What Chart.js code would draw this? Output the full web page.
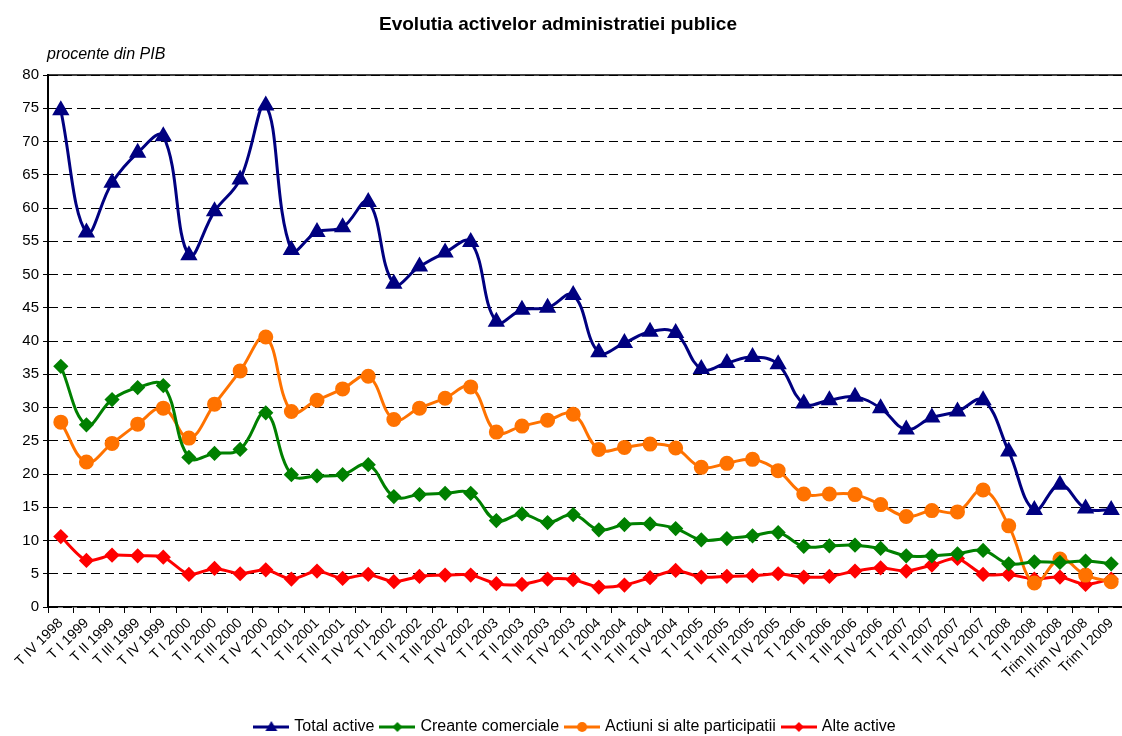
<!DOCTYPE html>
<html>
<head>
<meta charset="utf-8">
<script src="https://cdn.jsdelivr.net/npm/chart.js@4/dist/chart.umd.min.js"></script>
<style>
  body { margin: 0; overflow: hidden; background: #fff; font-family: Arial, "Liberation Sans", sans-serif; }
  #wrap { position: relative; width: 1122px; height: 736px; overflow: hidden; }
  #title { position: absolute; left: 0; top: 13px; width: 1116px; text-align: center; font-weight: bold; font-size: 19px; color: #000; }
  #unit { position: absolute; left: 47px; top: 45px; font-style: italic; font-size: 16px; color: #000; }
  canvas { position: absolute; left: 0; top: 0; }
</style>
</head>
<body>
<div id="wrap">
  <canvas id="myChart" width="1134" height="745"></canvas>
  <div id="title">Evolutia activelor administratiei publice</div>
  <div id="unit">procente din PIB</div>
</div>
<script>
var quarters = ["T IV 1998", "T I 1999", "T II 1999", "T III 1999", "T IV 1999",
  "T I 2000", "T II 2000", "T III 2000", "T IV 2000",
  "T I 2001", "T II 2001", "T III 2001", "T IV 2001",
  "T I 2002", "T II 2002", "T III 2002", "T IV 2002",
  "T I 2003", "T II 2003", "T III 2003", "T IV 2003",
  "T I 2004", "T II 2004", "T III 2004", "T IV 2004",
  "T I 2005", "T II 2005", "T III 2005", "T IV 2005",
  "T I 2006", "T II 2006", "T III 2006", "T IV 2006",
  "T I 2007", "T II 2007", "T III 2007", "T IV 2007",
  "T I 2008", "T II 2008", "Trim III 2008", "Trim IV 2008", "Trim I 2009"];

var totalActive = [74.7, 56.3, 63.8, 68.3, 70.8, 52.9, 59.5, 64.3, 75.4, 53.7, 56.4, 57.1, 60.9,
  48.6, 51.2, 53.3, 54.9, 42.9, 44.7, 45.0, 46.9, 38.3, 39.7, 41.4, 41.2, 35.8, 36.7, 37.6, 36.5,
  30.6, 31.1, 31.6, 29.9, 26.7, 28.5, 29.4, 31.1, 23.4, 14.6, 18.4, 14.8, 14.6];
var creanteComerciale = [36.2, 27.4, 31.2, 33.0, 33.3, 22.5, 23.1, 23.7, 29.2, 19.9, 19.7, 19.9, 21.4,
  16.6, 16.9, 17.1, 17.1, 13.0, 14.0, 12.7, 13.9, 11.6, 12.4, 12.5, 11.8, 10.1, 10.3, 10.7, 11.2,
  9.1, 9.2, 9.3, 8.8, 7.7, 7.7, 8.0, 8.5, 6.5, 6.8, 6.7, 6.9, 6.5];
var actiuni = [27.8, 21.8, 24.6, 27.5, 29.9, 25.4, 30.5, 35.5, 40.6, 29.4, 31.1, 32.8, 34.7,
  28.2, 29.9, 31.4, 33.1, 26.3, 27.2, 28.1, 29.0, 23.7, 24.0, 24.5, 23.9, 21.0, 21.6, 22.2, 20.5,
  17.0, 17.0, 16.9, 15.4, 13.6, 14.5, 14.3, 17.6, 12.2, 3.6, 7.2, 4.8, 3.8];
var alteActive = [10.6, 7.0, 7.8, 7.7, 7.5, 4.9, 5.8, 5.0, 5.6, 4.2, 5.4, 4.3, 4.9,
  3.8, 4.6, 4.8, 4.8, 3.5, 3.4, 4.2, 4.1, 3.0, 3.3, 4.4, 5.5, 4.5, 4.6, 4.7, 5.0,
  4.5, 4.6, 5.4, 5.9, 5.4, 6.3, 7.3, 4.9, 4.9, 4.2, 4.5, 3.4, 4.2];

var seriesNames = ["Total active", "Creante comerciale", "Actiuni si alte participatii", "Alte active"];
var seriesColors = ["#000080", "#008000", "#FF7200", "#FF0000"];
var seriesMarkers = ["triangle", "rectRot", "circle", "rectRot"];

var fontFamily = "Arial, 'Liberation Sans', sans-serif";
Chart.defaults.font.family = fontFamily;
Chart.defaults.color = "#000";

// legend icons: a short line with the marker in the middle
function legendIcon(color, marker) {
  var c = document.createElement("canvas");
  c.width = 36;
  c.height = 14;
  var g = c.getContext("2d");
  g.strokeStyle = color;
  g.fillStyle = color;
  g.lineWidth = 3;
  g.beginPath();
  g.moveTo(0, 7);
  g.lineTo(36, 7);
  g.stroke();
  g.beginPath();
  if (marker === "triangle") {
    g.moveTo(18, 1);
    g.lineTo(24, 11);
    g.lineTo(12, 11);
  } else if (marker === "rectRot") {
    g.moveTo(18, 2);
    g.lineTo(23, 7);
    g.lineTo(18, 12);
    g.lineTo(13, 7);
  } else {
    g.arc(18, 7, 5, 0, Math.PI * 2);
  }
  g.closePath();
  g.fill();
  return c;
}
var legendIcons = seriesColors.map(function (c, i) { return legendIcon(c, seriesMarkers[i]); });

var seriesData = [totalActive, creanteComerciale, actiuni, alteActive];
var pointSizes = [7, 5.5, 6, 5.5];
var tensions = [0.4, 0.4, 0.4, 0.25];

var datasets = seriesData.map(function (d, i) {
  return {
    label: seriesNames[i],
    data: d,
    borderColor: seriesColors[i],
    backgroundColor: seriesColors[i],
    pointBackgroundColor: seriesColors[i],
    pointBorderColor: seriesColors[i],
    pointStyle: seriesMarkers[i],
    pointRadius: pointSizes[i],
    borderWidth: 3,
    tension: tensions[i],
    fill: false,
    clip: false
  };
});

// solid line along the top of the plot area
var topBorder = {
  id: "topBorder",
  beforeDatasetsDraw: function (chart) {
    var a = chart.chartArea;
    var g = chart.ctx;
    g.save();
    g.strokeStyle = "#000";
    g.lineWidth = 1.5;
    g.beginPath();
    g.moveTo(a.left, a.top);
    g.lineTo(a.right, a.top);
    g.stroke();
    g.restore();
  }
};

new Chart("myChart", {
  type: "line",
  data: {
    labels: quarters,
    datasets: datasets
  },
  options: {
    responsive: false,
    animation: false,
    layout: { padding: { top: 75, left: 18, right: 0, bottom: 0 } },
    scales: {
      x: {
        offset: true,
        afterFit: function (s) { s.height = 104; },
        grid: { drawOnChartArea: false, offset: true, tickLength: 6, tickColor: "#000", tickWidth: 1 },
        border: { color: "#000", width: 1.5 },
        ticks: { autoSkip: false, minRotation: 45, maxRotation: 45, color: "#000", font: { size: 14 }, padding: 2 }
      },
      y: {
        min: 0,
        max: 80,
        afterFit: function (s) { s.width = 30; },
        ticks: { stepSize: 5, color: "#000", font: { size: 15 }, padding: 4 },
        grid: { color: "#000", lineWidth: 1, tickLength: 5, tickColor: "#000" },
        border: { color: "#000", width: 2, dash: [9, 5] }
      }
    },
    plugins: {
      legend: {
        position: "bottom",
        labels: {
          usePointStyle: true,
          pointStyleWidth: 30,
          boxHeight: 14,
          color: "#000",
          font: { size: 16 },
          padding: 8,
          generateLabels: function (chart) {
            var items = Chart.defaults.plugins.legend.labels.generateLabels(chart);
            items.forEach(function (it, i) { it.pointStyle = legendIcons[i]; });
            return items;
          }
        }
      },
      title: { display: false },
      tooltip: { enabled: false }
    }
  },
  plugins: [topBorder]
});
</script>
</body>
</html>
